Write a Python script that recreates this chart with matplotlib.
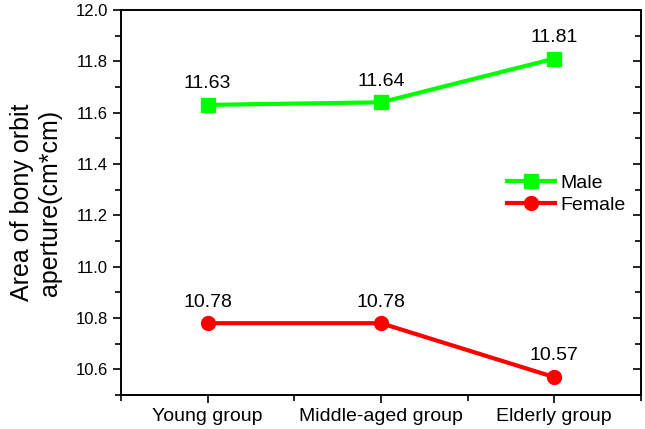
import matplotlib.pyplot as plt
from matplotlib.ticker import MultipleLocator, FixedLocator

plt.rcParams["font.family"] = ["Liberation Sans", "DejaVu Sans"]

GROUPS = ["Young group", "Middle-aged group", "Elderly group"]
MALE = [11.63, 11.64, 11.81]
FEMALE = [10.78, 10.78, 10.57]

x = [1, 2, 3]

fig = plt.figure(figsize=(6.45, 4.29), dpi=100)
ax = fig.add_axes([0.1876, 0.079, 0.806, 0.898])

ax.plot(x, MALE, color="#00ff00", lw=3, marker="s", ms=10, label="Male")
ax.plot(x, FEMALE, color="#ff0000", lw=3, marker="o", ms=10, label="Female")

for series in (MALE, FEMALE):
    for xi, v in zip(x, series):
        ax.annotate(f"{v:.2f}", (xi, v), xytext=(0, 12), textcoords="offset points",
                    ha="center", va="baseline", fontsize=14)

ax.set_xlim(0.5, 3.5)
ax.set_ylim(10.5, 12.0)
ax.set_xticks(x)
ax.set_xticklabels(GROUPS, fontsize=14)
ax.xaxis.set_minor_locator(FixedLocator([0.5, 1.5, 2.5, 3.5]))
ax.yaxis.set_major_locator(MultipleLocator(0.2))
ax.yaxis.set_minor_locator(MultipleLocator(0.1))
ax.yaxis.set_major_formatter(plt.FormatStrFormatter("%.1f"))
ax.tick_params(axis="y", labelsize=12)
ax.tick_params(which="major", direction="out", length=6, width=1.2)
ax.tick_params(which="minor", direction="out", length=4, width=1.2)
for sp in ax.spines.values():
    sp.set_linewidth(1.2)

# right axis: ticks pointing inward, no labels
rax = ax.twinx()
rax.set_ylim(ax.get_ylim())
rax.yaxis.set_major_locator(MultipleLocator(0.2))
rax.yaxis.set_minor_locator(MultipleLocator(0.1))
rax.tick_params(which="major", direction="in", length=6, width=1.2, labelright=False)
rax.tick_params(which="minor", direction="in", length=4, width=1.2)
for sp in rax.spines.values():
    sp.set_linewidth(1.2)

ax.set_ylabel("Area of bony orbit\naperture(cm*cm)", fontsize=18, labelpad=10)

ax.legend(loc="center left", bbox_to_anchor=(0.742, 0.522), frameon=False,
          fontsize=14, handlelength=2.5, handletextpad=0.25, labelspacing=0.25,
          borderaxespad=0, borderpad=0)

fig.savefig("out.png", dpi=100)
